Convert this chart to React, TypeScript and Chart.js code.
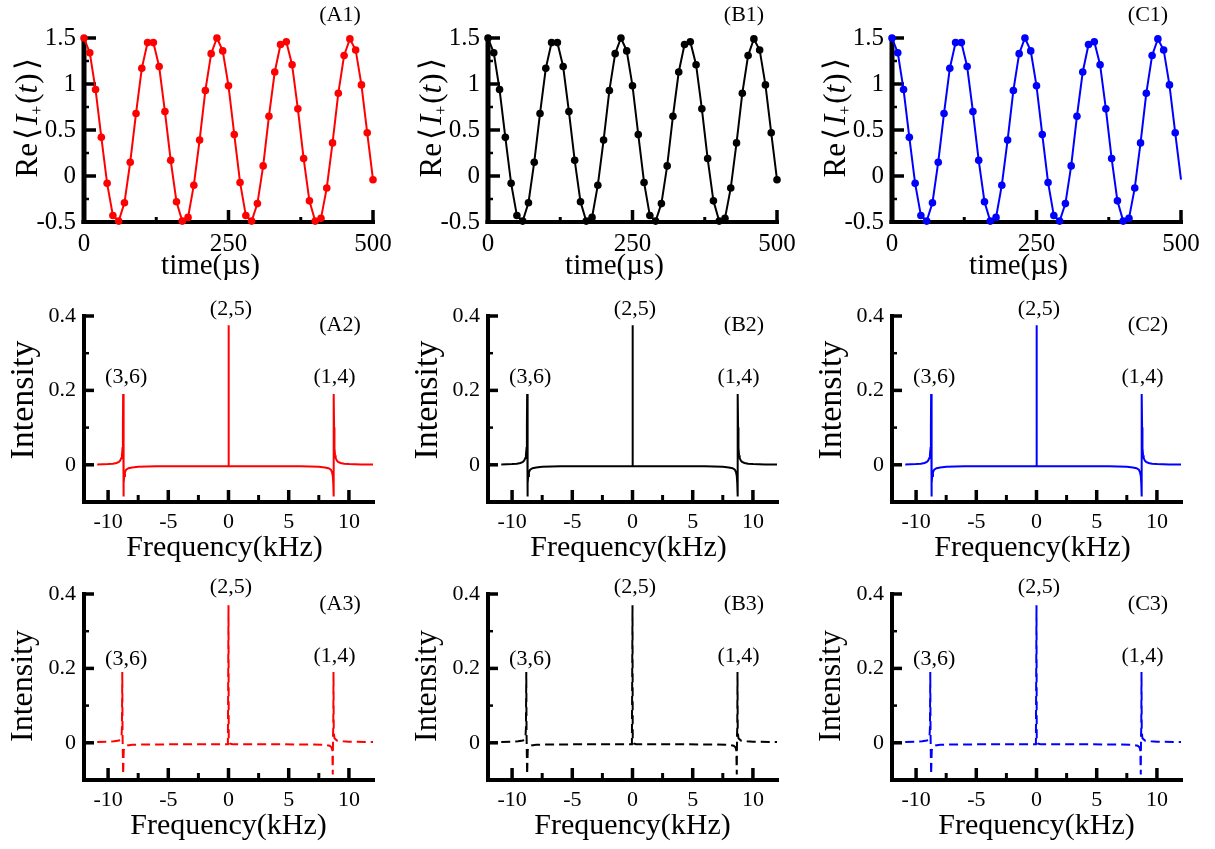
import React, { useEffect, useRef } from 'react';
import { Chart, registerables } from 'chart.js';
Chart.register(...registerables);

// ---------- data ----------
const timeUs = [0, 10, 20, 30, 40, 50, 60, 70, 80, 90, 100, 110, 120, 130, 140, 150, 160, 170, 180, 190, 200, 210, 220, 230, 240, 250, 260, 270, 280, 290, 300, 310, 320, 330, 340, 350, 360, 370, 380, 390, 400, 410, 420, 430, 440, 450, 460, 470, 480, 490, 500];
const reSignal = [1.50, 1.34, 0.94, 0.42, -0.08, -0.43, -0.49, -0.29, 0.15, 0.68, 1.17, 1.45, 1.45, 1.19, 0.70, 0.17, -0.28, -0.49, -0.45, -0.10, 0.39, 0.93, 1.33, 1.50, 1.36, 0.98, 0.45, -0.07, -0.43, -0.49, -0.30, 0.11, 0.65, 1.13, 1.43, 1.46, 1.21, 0.73, 0.19, -0.27, -0.49, -0.46, -0.13, 0.36, 0.90, 1.31, 1.49, 1.37, 0.99, 0.47, -0.04];

const freqSolid = [-10.9, -10, -9.6, -9.3, -9.1, -9.0, -8.9, -8.85, -8.8, -8.77, -8.75, -8.72, -8.7, -8.66, -8.6, -8.5, -8.3, -8.0, -7.5, -6, -4, -2, -0.3, -0.03, 0, 0.03, 0.3, 2, 4, 6, 7.5, 8.0, 8.3, 8.5, 8.6, 8.66, 8.7, 8.72, 8.75, 8.77, 8.8, 8.85, 8.9, 9.0, 9.1, 9.3, 9.6, 10, 11, 12];
const intSolid = [0.001, 0.002, 0.003, 0.005, 0.008, 0.011, 0.018, 0.026, 0.045, 0.1, 0.19, -0.085, -0.05, -0.03, -0.02, -0.013, -0.009, -0.007, -0.005, -0.004, -0.004, -0.004, -0.004, -0.004, 0.375, -0.004, -0.004, -0.004, -0.004, -0.004, -0.005, -0.007, -0.009, -0.013, -0.02, -0.03, -0.05, -0.085, 0.19, 0.1, 0.045, 0.026, 0.018, 0.011, 0.008, 0.005, 0.003, 0.002, 0.001, 0.001];

const freqDashed = [-10.9, -10, -9.5, -9.1, -8.95, -8.88, -8.85, -8.82, -8.8, -8.78, -8.75, -8.7, -8.6, -8.4, -8, -4, -0.05, 0, 0.02, 0.1, 0.3, 4, 8, 8.4, 8.55, 8.62, 8.66, 8.68, 8.7, 8.72, 8.74, 8.8, 9.0, 9.5, 10, 12];
const intDashed = [0.002, 0.003, 0.004, 0.006, 0.01, 0.02, 0.04, 0.19, 0.03, -0.02, -0.085, -0.02, -0.01, -0.007, -0.005, -0.004, -0.004, 0.37, 0.01, -0.002, -0.004, -0.004, -0.005, -0.008, -0.012, -0.02, -0.085, 0.02, 0.04, 0.19, 0.03, 0.012, 0.006, 0.004, 0.003, 0.002];

const timeTicks = [0, 250, 500];
const timeMinorTicks = [125, 375];
const reTicks = [-0.5, 0, 0.5, 1, 1.5];
const reMinorTicks = [-0.25, 0.25, 0.75, 1.25];
const freqTicks = [-10, -5, 0, 5, 10];
const freqMinorTicks = [-7.5, -2.5, 2.5, 7.5];
const intTicks = [0, 0.2, 0.4];
const intMinorTicks = [0.1, 0.3];

const peakNames = ['(3,6)', '(2,5)', '(1,4)'];
const peakLabelFreq = [-8.5, 0.2, 8.8];
const peakLabelIntRow2 = [0.235, 0.418, 0.235];
const peakLabelIntRow3 = [0.226, 0.418, 0.232];

const columnKeys = ['A', 'B', 'C'];
const columnColors = ['#ff0000', '#000000', '#0000ff'];

// ---------- layout ----------
const FAM = '"Liberation Serif", "Times New Roman", serif';
const COL_W = 404;
const rows = [
  { top: 0, h: 285, padTop: 38, xAxisH: 63, labelDy: -23, tickSize: 25, xTitle: 'time(\u00B5s)', xTitleSize: 29, xTitleDx: -18, xTitleY: 266, yTitleY: 0, yTitleSize: 0 },
  { top: 280, h: 290, padTop: 36, xAxisH: 68, labelDy: 9, tickSize: 22, xTitle: 'Frequency(kHz)', xTitleSize: 30, xTitleDx: -4, xTitleY: 268, yTitleY: 120, yTitleSize: 34 },
  { top: 560, h: 289, padTop: 34, xAxisH: 69, labelDy: 10, tickSize: 22, xTitle: 'Frequency(kHz)', xTitleSize: 30, xTitleDx: 0, xTitleY: 266, yTitleY: 126, yTitleSize: 32 },
];

function drawReTitle(ctx: CanvasRenderingContext2D, cx: number, cy: number) {
  const big = 31;
  const parts = [
    { t: 'Re', f: `${big}px ${FAM}`, dy: 0, pl: 0 },
    { t: '\u27E8', f: `${big}px ${FAM}`, dy: 0, pl: 3 },
    { t: 'I', f: `italic ${big}px ${FAM}`, dy: 0, pl: 3 },
    { t: '+', f: `16px ${FAM}`, dy: 5, pl: 0 },
    { t: '(', f: `${big}px ${FAM}`, dy: 0, pl: 2 },
    { t: 't', f: `italic ${big}px ${FAM}`, dy: 0, pl: 0 },
    { t: ')', f: `${big}px ${FAM}`, dy: 0, pl: 1 },
    { t: '\u27E9', f: `${big}px ${FAM}`, dy: 0, pl: 3 },
  ];
  ctx.save();
  let total = 0;
  const widths = parts.map((p) => {
    ctx.font = p.f;
    const w = ctx.measureText(p.t).width + p.pl;
    total += w;
    return w;
  });
  ctx.translate(cx, cy);
  ctx.rotate(-Math.PI / 2);
  ctx.fillStyle = '#000';
  ctx.textBaseline = 'alphabetic';
  ctx.textAlign = 'left';
  let x = -total / 2;
  parts.forEach((p, i) => {
    ctx.font = p.f;
    ctx.fillText(p.t, x + p.pl, 11 + p.dy);
    x += widths[i];
  });
  ctx.restore();
}

function makeConfig(row: number, col: number): any {
  const color = columnColors[col];
  const isTime = row === 0;
  const r = rows[row];
  const xMajor = isTime ? timeTicks : freqTicks;
  const xMinor = isTime ? timeMinorTicks : freqMinorTicks;
  const yMajor = isTime ? reTicks : intTicks;
  const yMinor = isTime ? reMinorTicks : intMinorTicks;

  let dataset: any;
  if (isTime) {
    dataset = {
      data: timeUs.map((t, i) => ({ x: t, y: reSignal[i] })),
      borderColor: color,
      backgroundColor: color,
      borderWidth: 2,
      pointRadius: (c: any) => (col === 2 && c.dataIndex === timeUs.length - 1 ? 0 : 3.8),
      pointBorderWidth: 0,
      pointBackgroundColor: color,
      tension: 0,
      clip: false,
    };
  } else {
    const fx = row === 1 ? freqSolid : freqDashed;
    const fy = row === 1 ? intSolid : intDashed;
    dataset = {
      data: fx.map((f, i) => ({ x: f, y: fy[i] })),
      borderColor: color,
      borderWidth: 2,
      borderDash: row === 2 ? [9, 5] : [],
      pointRadius: 0,
      tension: 0,
      clip: false,
    };
  }

  const axesPlugin = {
    id: 'inwardAxes',
    beforeDatasetsDraw(chart: any) {
      const { ctx, chartArea } = chart;
      const { left, right, top, bottom } = chartArea;
      const xs = chart.scales.x;
      const ys = chart.scales.y;
      const vw = isTime ? 5 : 4;
      const hw = 4;
      const majLen = isTime ? 12 : 10;
      const minLen = 5;
      const xMajLen = 12;
      const xMinLen = isTime ? 5 : 7;
      ctx.save();
      ctx.strokeStyle = '#000';
      ctx.lineCap = 'butt';
      ctx.lineWidth = vw;
      ctx.beginPath();
      ctx.moveTo(left, top - 2);
      ctx.lineTo(left, bottom + hw / 2);
      ctx.stroke();
      ctx.lineWidth = hw;
      ctx.beginPath();
      ctx.moveTo(left - vw / 2, bottom);
      ctx.lineTo(right + 2, bottom);
      ctx.stroke();
      ctx.lineWidth = 3.5;
      yMajor.forEach((v) => {
        const y = ys.getPixelForValue(v);
        ctx.beginPath();
        ctx.moveTo(left, y);
        ctx.lineTo(left + majLen, y);
        ctx.stroke();
      });
      ctx.lineWidth = 2.5;
      yMinor.forEach((v) => {
        const y = ys.getPixelForValue(v);
        ctx.beginPath();
        ctx.moveTo(left, y);
        ctx.lineTo(left + minLen, y);
        ctx.stroke();
      });
      ctx.lineWidth = 3.5;
      xMajor.forEach((v) => {
        const x = xs.getPixelForValue(v);
        ctx.beginPath();
        ctx.moveTo(x, bottom);
        ctx.lineTo(x, bottom - xMajLen);
        ctx.stroke();
      });
      ctx.lineWidth = 3;
      xMinor.forEach((v) => {
        const x = xs.getPixelForValue(v);
        ctx.beginPath();
        ctx.moveTo(x, bottom);
        ctx.lineTo(x, bottom - xMinLen);
        ctx.stroke();
      });
      ctx.restore();
    },
    afterDraw(chart: any) {
      const { ctx, chartArea } = chart;
      const xs = chart.scales.x;
      const ys = chart.scales.y;
      const cx = (chartArea.left + chartArea.right) / 2;
      ctx.save();
      ctx.fillStyle = '#000';
      ctx.textAlign = 'center';
      ctx.textBaseline = 'middle';
      ctx.font = `22px ${FAM}`;
      ctx.fillText(`(${columnKeys[col]}${row + 1})`, chartArea.right - 33, chartArea.top + r.labelDy);
      ctx.font = `${r.xTitleSize}px ${FAM}`;
      ctx.fillText(r.xTitle, cx + r.xTitleDx, r.xTitleY);
      if (!isTime) {
        const ly = row === 1 ? peakLabelIntRow2 : peakLabelIntRow3;
        ctx.font = `22px ${FAM}`;
        peakNames.forEach((name, i) => {
          ctx.fillText(name, xs.getPixelForValue(peakLabelFreq[i]), ys.getPixelForValue(ly[i]));
        });
        ctx.save();
        ctx.translate(24, r.yTitleY);
        ctx.rotate(-Math.PI / 2);
        ctx.font = `${r.yTitleSize}px ${FAM}`;
        ctx.fillText('Intensity', 0, 0);
        ctx.restore();
      } else {
        drawReTitle(ctx, 26, 118);
      }
      ctx.restore();
    },
  };

  return {
    type: 'line',
    data: { datasets: [dataset] },
    plugins: [axesPlugin],
    options: {
      animation: false,
      responsive: false,
      events: [],
      layout: { padding: { top: r.padTop, right: 31, left: 0, bottom: 0 } },
      plugins: { legend: { display: false }, tooltip: { enabled: false }, title: { display: false } },
      scales: {
        x: {
          type: 'linear',
          min: isTime ? 0 : -12,
          max: isTime ? 500 : 12,
          afterBuildTicks: (s: any) => {
            s.ticks = xMajor.map((v) => ({ value: v }));
          },
          afterFit: (s: any) => {
            s.height = r.xAxisH;
          },
          grid: { display: false, drawTicks: false },
          border: { display: false },
          ticks: {
            color: '#000',
            padding: 7,
            maxRotation: 0,
            autoSkip: false,
            font: { family: FAM, size: r.tickSize },
            callback: (v: any) => String(v),
          },
          title: { display: false },
        },
        y: {
          type: 'linear',
          min: isTime ? -0.5 : -0.1,
          max: isTime ? 1.5 : 0.4,
          afterBuildTicks: (s: any) => {
            s.ticks = yMajor.map((v) => ({ value: v }));
          },
          afterFit: (s: any) => {
            s.width = 84;
          },
          grid: { display: false, drawTicks: false },
          border: { display: false },
          ticks: {
            color: '#000',
            padding: 8,
            autoSkip: false,
            font: { family: FAM, size: r.tickSize },
            callback: (v: any) => String(v),
          },
          title: { display: false },
        },
      },
    },
  };
}

function Panel({ row, col }: { row: number; col: number }) {
  const ref = useRef<HTMLCanvasElement>(null);
  const r = rows[row];
  useEffect(() => {
    if (!ref.current) return;
    const chart = new Chart(ref.current, makeConfig(row, col));
    return () => chart.destroy();
  }, [row, col]);
  return (
    <canvas
      ref={ref}
      width={COL_W}
      height={r.h}
      style={{ position: 'absolute', left: col * COL_W, top: r.top, width: COL_W, height: r.h }}
    />
  );
}

export default function App() {
  const cells: JSX.Element[] = [];
  for (let row = 0; row < 3; row++) {
    for (let col = 0; col < 3; col++) {
      cells.push(<Panel key={`${row}-${col}`} row={row} col={col} />);
    }
  }
  return (
    <div style={{ position: 'absolute', left: 0, top: 0, width: 1215, height: 849, background: '#fff', overflow: 'hidden' }}>
      {cells}
    </div>
  );
}
